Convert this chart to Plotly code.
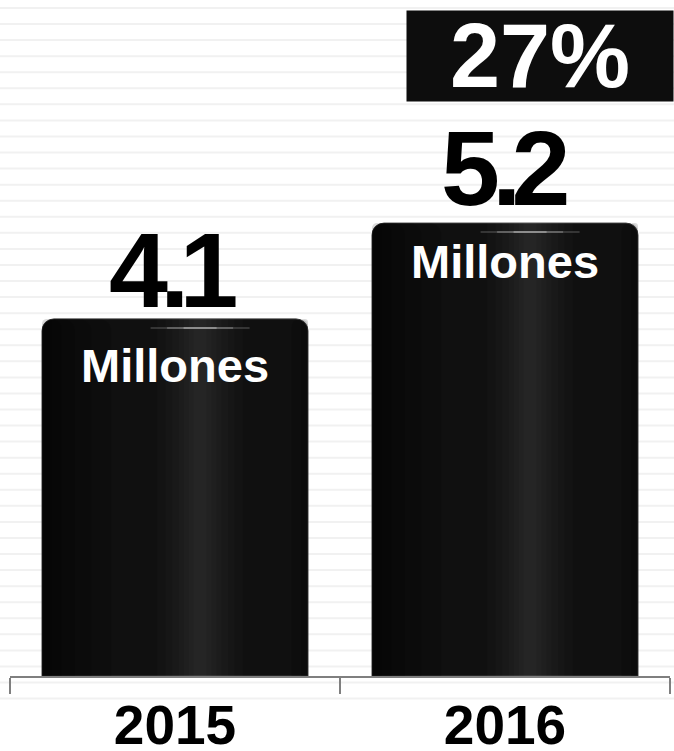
import plotly.graph_objects as go

# ---- data ----
years = ["2015", "2016"]
values = [4.1, 5.2]
unit_label = "Millones"
growth_label = "27%"

# ---- style ----
FONT = "Liberation Sans, Arial, sans-serif"
PX_PER_UNIT = 87.1
PLOT_H = 676
BAR_W = 0.806
SP_BEFORE_DOT = -8
SP_AFTER_DOT = -10
value_shift = [-12, -6]      # px offsets of value labels
value_xshift = [-2, 0]
unit_shift = [-18, -10]      # px offsets of unit labels


def tight(s):
    a, b = s.split(".")
    return (f'<span style="letter-spacing:{SP_BEFORE_DOT}px">{a}</span>'
            f'<span style="letter-spacing:{SP_AFTER_DOT}px">.</span>{b}')


fig = go.Figure()

# main bars
fig.add_bar(
    x=years, y=values, width=BAR_W,
    marker=dict(color="#101010", line=dict(color="#3c3c3c", width=1), cornerradius=12),
    hoverinfo="skip", showlegend=False,
)
# left shading (soft gradient)
for w in [0.03, 0.06, 0.10, 0.15, 0.21]:
    fig.add_bar(
        x=years, y=values, width=w, offset=-BAR_W / 2,
        marker=dict(color="rgba(0,0,0,0.14)", line=dict(width=0), cornerradius=12),
        hoverinfo="skip", showlegend=False,
    )
# right edge shading
for w in [0.02, 0.05]:
    fig.add_bar(
        x=years, y=values, width=w, offset=BAR_W / 2 - w,
        marker=dict(color="rgba(0,0,0,0.15)", line=dict(width=0), cornerradius=12),
        hoverinfo="skip", showlegend=False,
    )
# central highlight (soft gradient)
for w in [0.26, 0.21, 0.17, 0.13, 0.10, 0.07, 0.04]:
    fig.add_bar(
        x=years, y=values, width=w, offset=0.076 - w / 2,
        marker=dict(color="rgba(255,255,255,0.016)", line=dict(width=0)),
        hoverinfo="skip", showlegend=False,
    )

shapes = []
# background stripes
for k in range(44):
    py = 8 + 16.06 * k
    yp = 1 - py / PLOT_H
    shapes.append(dict(type="line", xref="paper", yref="paper",
                       x0=-10 / 660, x1=1 + 4 / 660, y0=yp, y1=yp,
                       line=dict(color="#f1f1f1", width=2), layer="below"))
# top glow on each bar
for i, v in enumerate(values):
    yv = v - 9 / PX_PER_UNIT
    for half, col in [(0.15, "rgba(140,140,140,0.3)"), (0.10, "rgba(170,170,170,0.35)"),
                      (0.05, "rgba(200,200,200,0.4)")]:
        shapes.append(dict(type="line", xref="x", yref="y",
                           x0=i + 0.076 - half, x1=i + 0.076 + half, y0=yv, y1=yv,
                           line=dict(color=col, width=2), layer="above"))

annotations = []
for i, v in enumerate(values):
    annotations.append(dict(
        x=i, y=v, xref="x", yref="y", yanchor="bottom", xanchor="center",
        yshift=value_shift[i], xshift=value_xshift[i], showarrow=False,
        text=tight(f"{v:.1f}"),
        font=dict(family=FONT, size=106, color="#000000", weight="bold"),
    ))
    annotations.append(dict(
        x=i, y=v, xref="x", yref="y", yanchor="top", xanchor="center",
        yshift=unit_shift[i], showarrow=False, text=unit_label,
        font=dict(family=FONT, size=47, color="#ffffff", weight="bold"),
    ))
annotations.append(dict(
    x=(674 - 10) / 660, y=1 - 10 / PLOT_H, xref="paper", yref="paper",
    xanchor="right", yanchor="top", showarrow=False, text=growth_label,
    width=266, height=90, bgcolor="#0d0d0d", borderpad=0, valign="middle",
    font=dict(family=FONT, size=90, color="#ffffff", weight="bold"),
))

fig.update_layout(
    width=674, height=751,
    margin=dict(l=10, r=4, t=0, b=751 - PLOT_H, autoexpand=False),
    barmode="overlay",
    plot_bgcolor="white", paper_bgcolor="white",
    shapes=shapes, annotations=annotations,
    xaxis=dict(
        type="category", range=[-0.5, 1.5], showline=True, linecolor="#7f7f7f", linewidth=2,
        ticks="outside", ticklen=16, tickwidth=2, tickcolor="#7f7f7f", tickson="boundaries",
        showgrid=False, zeroline=False, ticklabelstandoff=0, automargin=False,
        tickfont=dict(family=FONT, size=55, color="#000000", weight="bold"),
    ),
    yaxis=dict(range=[0, PLOT_H / PX_PER_UNIT], visible=False, showgrid=False,
               zeroline=False, automargin=False),
)

fig.write_html("out.html")
